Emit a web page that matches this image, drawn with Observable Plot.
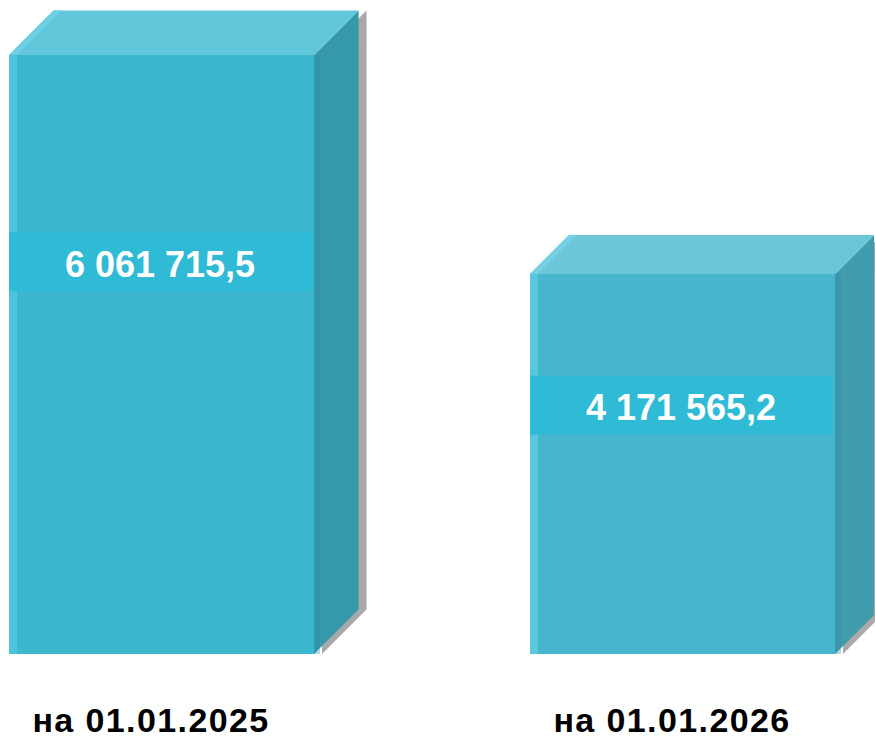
<!DOCTYPE html>
<html>
<head>
<meta charset="utf-8">
<script src="https://cdn.jsdelivr.net/npm/d3@7"></script>
<script src="https://cdn.jsdelivr.net/npm/@observablehq/plot@0.6"></script>
<style>
  html, body { margin: 0; padding: 0; background: #ffffff; }
  #chart svg { display: block; }
  #chart svg [aria-label="x-axis tick label"] text { font-weight: bold; letter-spacing: 1.4px; }
</style>
</head>
<body>
<div id="chart"></div>
<script>
// ---- data ----
const categories = ["на 01.01.2025", "на 01.01.2026"];
const values = [6061715.5, 4171565.2];
const valueLabels = ["6 061 715,5", "4 171 565,2"];

// ---- axis setting (the 3D chart's value axis does not start at zero) ----
const yAxisStart = 891500;
const yAxisEnd = 6061715.5;

// ---- styles ----
const frontColors = ["#3db7cf", "#48b5cf"];
const topColors = ["#62c6da", "#6bc7d8"];
const sideColors = ["#3598ab", "#409bad"];
const edgeColors = ["#4cc4dc", "#57c8dd"];
const topEdgeColors = ["#6ccfe3", "#74d0e2"];
const bandColor = "#2fbad5";
const shadowColor = "#a9a9a9";
const labelBandFraction = 0.655;

const rows = categories.map((c, i) => ({category: c, value: values[i], label: valueLabels[i], i}));
const bandValue = d => yAxisStart + labelBandFraction * (d.value - yAxisStart);

function bandwidthOf(scales) {
  const X = scales.x;
  if (X && typeof X.bandwidth === "function") return X.bandwidth();
  if (scales.scales && scales.scales.x && scales.scales.x.bandwidth != null) return scales.scales.x.bandwidth;
  return 0;
}
function depthFor(h) { return 29.5 + 0.0251 * h; }
function pts(a) { return a.map(p => p.join(",")).join(" "); }

// back parts: shadow, side face, top face
function backFaces(index, scales) {
  const g = d3.create("svg:g");
  const bw = bandwidthOf(scales);
  for (const d of rows) {
    const x0 = scales.x(d.category), x1 = x0 + bw;
    const yt = scales.y(d.value), yb = scales.y(yAxisStart);
    const k = depthFor(yb - yt);
    const side = [[x1, yt], [x1 + k, yt - k], [x1 + k, yb - k], [x1, yb]];
    g.append("polygon").attr("points", pts(side.map(([a, b]) => [a + 8, b]))).attr("fill", shadowColor);
    g.append("polygon").attr("points", pts(side)).attr("fill", sideColors[d.i]);
    g.append("rect").attr("x", x1).attr("y", yt - 1).attr("width", 6).attr("height", yb - yt + 1)
      .attr("fill", "#2f8fa2").attr("fill-opacity", 0.35);
    g.append("polygon").attr("points", pts([[x0, yt], [x1, yt], [x1 + k, yt - k], [x0 + k, yt - k]]))
      .attr("fill", topColors[d.i]);
    g.append("polygon").attr("points", pts([[x0, yt], [x0 + 8, yt], [x0 + 8 + k, yt - k], [x0 + k, yt - k]]))
      .attr("fill", topEdgeColors[d.i]);
  }
  return g.node();
}

// front details: left highlight strip and value band
function frontDetails(index, scales) {
  const g = d3.create("svg:g");
  const bw = bandwidthOf(scales);
  for (const d of rows) {
    const x0 = scales.x(d.category);
    const yt = scales.y(d.value), yb = scales.y(yAxisStart);
    g.append("rect").attr("x", x0).attr("y", yt).attr("width", 8).attr("height", yb - yt)
      .attr("fill", edgeColors[d.i]);
    const yc = scales.y(bandValue(d));
    g.append("rect").attr("x", x0).attr("y", yc - 29.5).attr("width", bw - 2).attr("height", 59)
      .attr("fill", bandColor);
  }
  return g.node();
}

const chart = Plot.plot({
  width: 875,
  height: 740,
  marginLeft: 9,
  marginRight: 40,
  marginTop: 55,
  marginBottom: 86,
  style: {fontFamily: "'Liberation Sans', Arial, sans-serif", background: "#ffffff"},
  x: {type: "band", domain: categories, paddingInner: 0.415, paddingOuter: 0, axis: null},
  y: {domain: [yAxisStart, yAxisEnd], axis: null},
  color: {domain: categories, range: frontColors},
  marks: [
    backFaces,
    Plot.barY(rows, {x: "category", y1: () => yAxisStart, y2: "value", fill: "category"}),
    frontDetails,
    Plot.text(rows, {
      x: "category", y: bandValue, text: "label", fill: "white",
      fontSize: 36, fontWeight: "bold", dx: -2, dy: 3
    }),
    Plot.axisX({tickSize: 0, tickPadding: 53, fontSize: 34, fontWeight: "bold", fill: "#000000", dx: -11, label: null})
  ]
});
document.getElementById("chart").append(chart);
</script>
</body>
</html>
